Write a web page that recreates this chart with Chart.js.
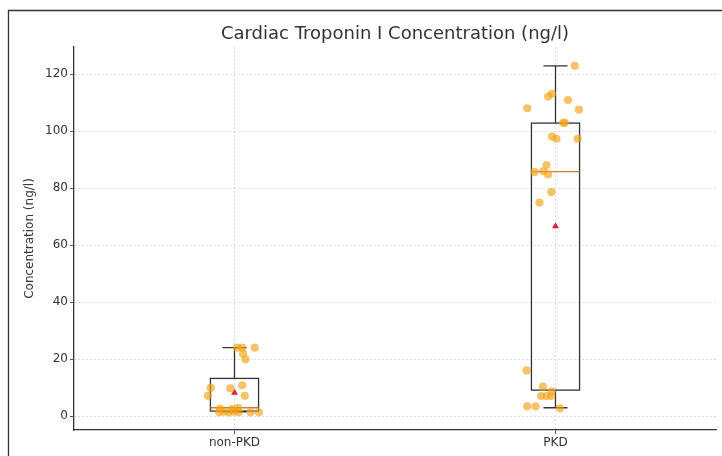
<!DOCTYPE html>
<html lang="en">
<head>
  <meta charset="UTF-8">
  <title>Cardiac Troponin I</title>
  <script src="https://cdn.jsdelivr.net/npm/chart.js"></script>
  <style>
    body { margin: 0; background: #fff; }
    #wrap { width: 722px; height: 456px; }
  </style>
</head>
<body>
  <div id="wrap"><canvas id="troponinChart" width="722" height="456"></canvas></div>

  <script>
    // Groups and y ticks
    const groups = ['non-PKD', 'PKD'];
    const yTicks = [0, 20, 40, 60, 80, 100, 120];
    const chartTitle = 'Cardiac Troponin I Concentration (ng/l)';

    // Box statistics per group
    const q1 = [1.75, 9.1];
    const medians = [2.9, 85.8];
    const q3 = [13.2, 102.8];
    const whiskerLow = [1.5, 2.9];
    const whiskerHigh = [24.0, 122.9];
    const means = [8.2, 66.6];

    // Individual observations (jitter offset from group centre, value)
    const nonPkdJitter = [0.008, 0.024, 0.063, 0.027, 0.034, -0.074, -0.013, 0.024, -0.083, 0.032,
                          -0.045, -0.034, -0.018, -0.003, 0.011, 0.013, 0.050, 0.076, -0.048, -0.007];
    const nonPkdValues = [24.0, 24.0, 24.0, 21.9, 19.9, 9.9, 9.7, 10.8, 7.1, 7.1,
                          2.6, 1.5, 1.3, 1.5, 2.9, 1.3, 1.3, 1.3, 1.3, 2.5];
    const pkdJitter = [0.060, -0.011, -0.023, -0.088, 0.039, 0.073, 0.024, 0.029, -0.011, 0.003, 0.069,
                       -0.028, -0.065, -0.038, -0.023, -0.013, -0.050,
                       -0.090, -0.039, -0.012, -0.045, -0.028, -0.013, -0.088, -0.062, 0.014];
    const pkdValues = [122.9, 113.1, 112.1, 108.0, 110.9, 107.5, 102.9, 102.9, 98.1, 97.3, 97.3,
                       88.1, 85.6, 85.9, 84.8, 78.6, 74.9,
                       16.0, 10.3, 8.7, 7.0, 7.0, 7.0, 3.4, 3.4, 2.7];

    const boxWidth = 0.15;
    const ink = '#333';
    const font = 'DejaVu Sans';

    const pointsFor = (idx, jit, vals) => vals.map((v, i) => ({ x: idx + jit[i], y: v }));

    // draws boxes, medians and whiskers using the chart scales
    const boxPlugin = {
      id: 'boxes',
      beforeDatasetsDraw(chart) {
        const { ctx, scales: { x, y } } = chart;
        ctx.save();
        groups.forEach((g, i) => {
          const xl = x.getPixelForValue(i - boxWidth / 2);
          const xr = x.getPixelForValue(i + boxWidth / 2);
          const xc = x.getPixelForValue(i);
          const cl = x.getPixelForValue(i - boxWidth / 4);
          const cr = x.getPixelForValue(i + boxWidth / 4);
          const yq1 = y.getPixelForValue(q1[i]);
          const yq3 = y.getPixelForValue(q3[i]);
          ctx.strokeStyle = ink;
          ctx.lineWidth = 1.3;
          ctx.strokeRect(xl, yq3, xr - xl, yq1 - yq3);
          ctx.beginPath();
          ctx.moveTo(xc, yq3); ctx.lineTo(xc, y.getPixelForValue(whiskerHigh[i]));
          ctx.moveTo(xc, yq1); ctx.lineTo(xc, y.getPixelForValue(whiskerLow[i]));
          ctx.moveTo(cl, y.getPixelForValue(whiskerHigh[i])); ctx.lineTo(cr, y.getPixelForValue(whiskerHigh[i]));
          ctx.moveTo(cl, y.getPixelForValue(whiskerLow[i])); ctx.lineTo(cr, y.getPixelForValue(whiskerLow[i]));
          ctx.stroke();
          ctx.strokeStyle = '#d67a35';
          ctx.beginPath();
          ctx.moveTo(xl, y.getPixelForValue(medians[i]));
          ctx.lineTo(xr, y.getPixelForValue(medians[i]));
          ctx.stroke();
        });
        ctx.restore();
      },
      afterDraw(chart) {
        const { ctx, chartArea } = chart;
        ctx.save();
        // outer frame of the figure
        ctx.strokeStyle = ink;
        ctx.lineWidth = 1.3;
        ctx.beginPath();
        ctx.moveTo(8.5, 456); ctx.lineTo(8.5, 10.5); ctx.lineTo(722, 10.5);
        ctx.stroke();
        // title centred over the plot area
        ctx.fillStyle = ink;
        ctx.font = '18px "DejaVu Sans"';
        ctx.textAlign = 'center';
        ctx.textBaseline = 'middle';
        ctx.fillText(chartTitle, (chartArea.left + chartArea.right) / 2, 34);
        ctx.restore();
      }
    };

    const gridOpts = {
      color: '#d2d2d2',
      lineWidth: 0.8,
      tickColor: ink,
      tickLength: 4,
      tickBorderDash: []
    };

    const ctx = document.getElementById('troponinChart').getContext('2d');
    new Chart(ctx, {
      type: 'scatter',
      data: {
        datasets: [
          {
            label: 'non-PKD',
            data: pointsFor(0, nonPkdJitter, nonPkdValues),
            backgroundColor: 'rgba(242, 163, 20, 0.65)',
            borderWidth: 0,
            pointRadius: 4.1
          },
          {
            label: 'PKD',
            data: pointsFor(1, pkdJitter, pkdValues),
            backgroundColor: 'rgba(242, 163, 20, 0.65)',
            borderWidth: 0,
            pointRadius: 4.1
          },
          {
            label: 'mean',
            data: means.map((m, i) => ({ x: i, y: m })),
            pointStyle: 'triangle',
            backgroundColor: '#e0203f',
            borderColor: '#e0203f',
            borderWidth: 0,
            pointRadius: 4
          }
        ]
      },
      options: {
        responsive: false,
        animation: false,
        layout: { padding: { left: 0, right: 6, top: 47, bottom: 0 } },
        plugins: {
          legend: { display: false },
          tooltip: { enabled: false },
          title: { display: false }
        },
        scales: {
          x: {
            type: 'linear',
            min: -0.5,
            max: 1.5,
            afterBuildTicks: s => { s.ticks = groups.map((g, i) => ({ value: i })); },
            afterFit: s => { s.height = 26; },
            ticks: {
              callback: v => groups[v],
              color: ink,
              font: { family: font, size: 12 },
              padding: 2,
              maxRotation: 0
            },
            grid: gridOpts,
            border: { display: true, color: ink, width: 1.3, dash: [2, 2] }
          },
          y: {
            min: -4.9,
            max: 129.5,
            afterBuildTicks: s => { s.ticks = yTicks.map(v => ({ value: v })); },
            afterFit: s => { s.width = 74; },
            ticks: {
              color: ink,
              font: { family: font, size: 12 },
              padding: 2
            },
            grid: gridOpts,
            border: { display: true, color: ink, width: 1.3, dash: [2, 2] },
            title: {
              display: true,
              text: 'Concentration (ng/l)',
              color: ink,
              font: { family: font, size: 12 },
              padding: { top: 23, bottom: 4 }
            }
          }
        }
      },
      plugins: [boxPlugin]
    });
  </script>
</body>
</html>
